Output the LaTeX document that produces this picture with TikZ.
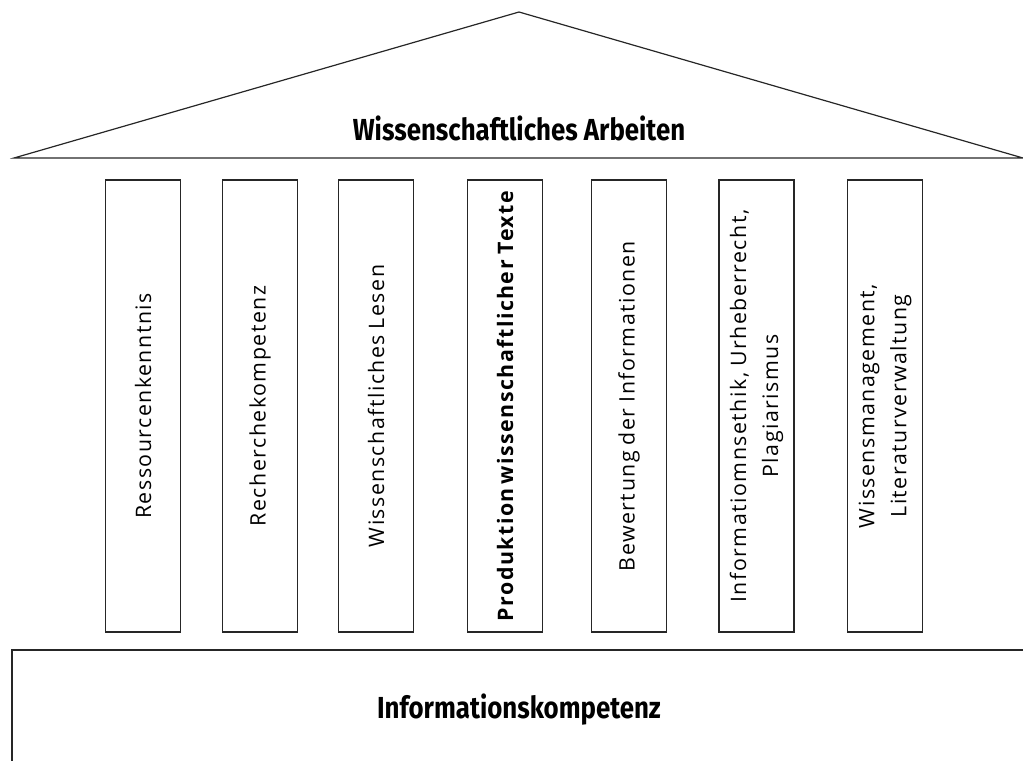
\documentclass[tikz,border=0pt]{standalone}
\usepackage{fontspec}
\setmainfont{Open Sans}[LetterSpace=7, WordSpace=0.85]
\newfontfamily\titlefont[FakeStretch=0.85]{Fira Sans}
\begin{document}
\begin{tikzpicture}[x=0.75pt, y=-0.75pt,
	pillarstyle/.style={rectangle, draw=black!85, line width=0.9pt,
		rotate=90, minimum width=339pt, minimum height=56.25pt,
		inner sep=0pt, text centered, align=center,
		font=\fontsize{16}{24}\selectfont},
	titlestyle/.style={font=\titlefont\bfseries\fontsize{22.8}{26}\selectfont}]
	\def \pillary {406}

	\clip (0,0) rectangle (1023,760);

	% Dach
	\coordinate (roofl) at (14,158);
	\coordinate (roofr) at (1023,158);
	\coordinate (apex) at (519,12);
	\draw[draw=black!85, line width=0.9pt] (roofl) -- (apex) -- (roofr) -- cycle;
	\node(roof) [titlestyle] at (519,128) {Wissenschaftliches Arbeiten};

	% Saeulen
	\foreach \px/\pillar [count=\s] in {143/Ressourcenkenntnis, 260/Recherchekompetenz, 376/Wissenschaftliches Lesen, 505/{\bfseries Produktion\,wissenschaftlicher Texte}, 629/Bewertung der Informationen, 756.5/{Informatiomnsethik, Urheberrecht,\\Plagiarismus}, 885/{Wissensmanagement,\\Literaturverwaltung}} {
		\node(p\s) [pillarstyle] at (\px,\pillary) {\pillar};
	};

	% Fundament
	\node(base) [rectangle, draw=black!85, line width=0.9pt,
		minimum width=760.5pt, minimum height=90pt, titlestyle]
		at (519,710) {Informationskompetenz};
\end{tikzpicture}
\end{document}
